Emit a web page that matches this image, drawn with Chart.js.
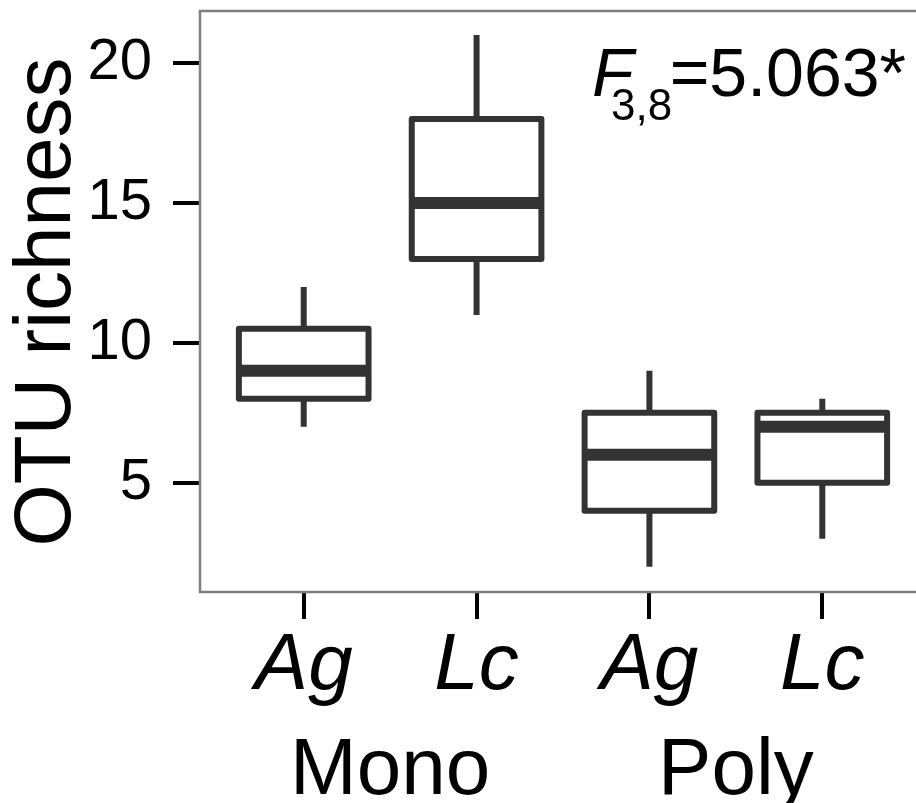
<!DOCTYPE html>
<html>
<head>
<meta charset="utf-8">
<script src="https://cdn.jsdelivr.net/npm/chart.js@4/dist/chart.umd.min.js"></script>
<style>
  html, body { margin: 0; padding: 0; background: #fff; overflow: hidden; }
  canvas { display: block; }
</style>
</head>
<body>
<canvas id="richness" width="940" height="803"></canvas>
<script>
// ====== DATA ======
const species = ['Ag', 'Lc', 'Ag', 'Lc'];
const groups = ['Mono', 'Poly'];
const groupCentres = [1.5, 3.5];
const whiskerLow = [7, 11, 2, 3];
const q1 = [8, 13, 4, 5];
const median = [9, 15, 6, 7];
const q3 = [10.5, 18, 7.5, 7.5];
const whiskerHigh = [12, 21, 9, 8];
const yTicks = [5, 10, 15, 20];

const FONT = "'Liberation Sans', Arial, Helvetica, sans-serif";
const INK = '#333333';

// ====== PLUGINS ======
// boxes, whiskers and medians drawn off the chart scales
const boxPlot = {
    id: 'boxPlot',
    afterDatasetsDraw(chart, args, opts) {
        const { ctx, scales: { x, y } } = chart;
        ctx.save();
        ctx.strokeStyle = INK;
        species.forEach((_, i) => {
            const cx = x.getPixelForValue(i + 1);
            const x0 = x.getPixelForValue(i + 1 - opts.width / 2);
            const x1 = x.getPixelForValue(i + 1 + opts.width / 2);
            const yLo = y.getPixelForValue(whiskerLow[i]);
            const yQ1 = y.getPixelForValue(q1[i]);
            const yMed = y.getPixelForValue(median[i]);
            const yQ3 = y.getPixelForValue(q3[i]);
            const yHi = y.getPixelForValue(whiskerHigh[i]);

            // whiskers
            ctx.lineWidth = opts.lineWidth;
            ctx.lineCap = 'butt';
            ctx.beginPath();
            ctx.moveTo(cx, yQ3); ctx.lineTo(cx, yHi);
            ctx.moveTo(cx, yQ1); ctx.lineTo(cx, yLo);
            ctx.stroke();

            // box
            ctx.fillStyle = '#fff';
            ctx.lineJoin = 'round';
            ctx.fillRect(x0, yQ3, x1 - x0, yQ1 - yQ3);
            ctx.strokeRect(x0, yQ3, x1 - x0, yQ1 - yQ3);

            // median
            ctx.lineWidth = opts.lineWidth * 2;
            ctx.beginPath();
            ctx.moveTo(x0, yMed); ctx.lineTo(x1, yMed);
            ctx.stroke();
        });
        ctx.restore();
    }
};

// grey panel border
const panelBorder = {
    id: 'panelBorder',
    afterDraw(chart) {
        const { ctx, chartArea: a } = chart;
        ctx.save();
        ctx.strokeStyle = '#7f7f7f';
        ctx.lineWidth = 2.5;
        ctx.strokeRect(a.left, a.top - 1, a.right - a.left, a.bottom - a.top + 1);
        ctx.restore();
    }
};

// F statistic in the top right corner
const fStat = {
    id: 'fStat',
    afterDraw(chart) {
        const ctx = chart.ctx;
        ctx.save();
        ctx.fillStyle = '#000';
        ctx.textBaseline = 'alphabetic';
        ctx.textAlign = 'left';
        ctx.font = `italic 68px ${FONT}`;
        ctx.fillText('F', 592, 96);
        ctx.font = `44px ${FONT}`;
        ctx.fillText('3,8', 611, 120);
        ctx.font = `68px ${FONT}`;
        ctx.textAlign = 'right';
        ctx.fillText('=5.063*', 906, 96);
        ctx.restore();
    }
};

// ====== CHART ======
const tickMarks = { display: true, drawOnChartArea: false, drawTicks: true, tickLength: 27, color: '#000', lineWidth: 4 };

// fixed axis sizes, no extra room reserved for edge labels
const fitX = h => s => { s.height = h; s.paddingLeft = 0; s.paddingRight = 0; };
const fitY = w => s => { s.width = w; s.paddingTop = 0; s.paddingBottom = 0; };

new Chart(document.getElementById('richness'), {
    type: 'scatter',
    data: {
        datasets: [{
            label: 'median',
            data: median.map((m, i) => ({ x: i + 1, y: m })),
            pointRadius: 0,
            showLine: false
        }]
    },
    options: {
        responsive: false,
        animation: false,
        devicePixelRatio: 1,
        layout: { padding: { top: 12, right: 14, left: 0, bottom: 0 } },
        plugins: {
            legend: { display: false },
            tooltip: { enabled: false },
            boxPlot: { width: 0.75, lineWidth: 6 }
        },
        scales: {
            x: {
                type: 'linear',
                position: 'bottom',
                weight: 0,
                min: 0.4,
                max: 4.6,
                grid: tickMarks,
                border: { display: false },
                afterBuildTicks: s => { s.ticks = species.map((_, i) => ({ value: i + 1 })); },
                afterFit: fitX(122),
                ticks: {
                    autoSkip: false,
                    maxRotation: 0,
                    padding: 0,
                    color: '#000',
                    font: { family: FONT, size: 80, style: 'italic' },
                    callback: v => species[v - 1]
                }
            },
            x2: {
                type: 'linear',
                position: 'bottom',
                axis: 'x',
                weight: 1,
                min: 0.4,
                max: 4.6,
                grid: { display: false, drawTicks: false },
                border: { display: false },
                afterBuildTicks: s => { s.ticks = groupCentres.map(v => ({ value: v })); },
                afterFit: fitX(89),
                ticks: {
                    autoSkip: false,
                    maxRotation: 0,
                    padding: 10,
                    color: '#000',
                    font: { family: FONT, size: 80 },
                    callback: v => groups[groupCentres.indexOf(v)]
                }
            },
            y: {
                type: 'linear',
                min: 1.1,
                max: 21.82,
                grid: tickMarks,
                border: { display: false },
                afterBuildTicks: s => { s.ticks = yTicks.map(v => ({ value: v })); },
                afterFit: fitY(200),
                title: {
                    display: true,
                    text: 'OTU richness',
                    color: '#000',
                    padding: 0,
                    font: { family: FONT, size: 80 }
                },
                ticks: {
                    padding: 21,
                    color: '#000',
                    font: { family: FONT, size: 58 }
                }
            }
        }
    },
    plugins: [boxPlot, panelBorder, fStat]
});
</script>
</body>
</html>
